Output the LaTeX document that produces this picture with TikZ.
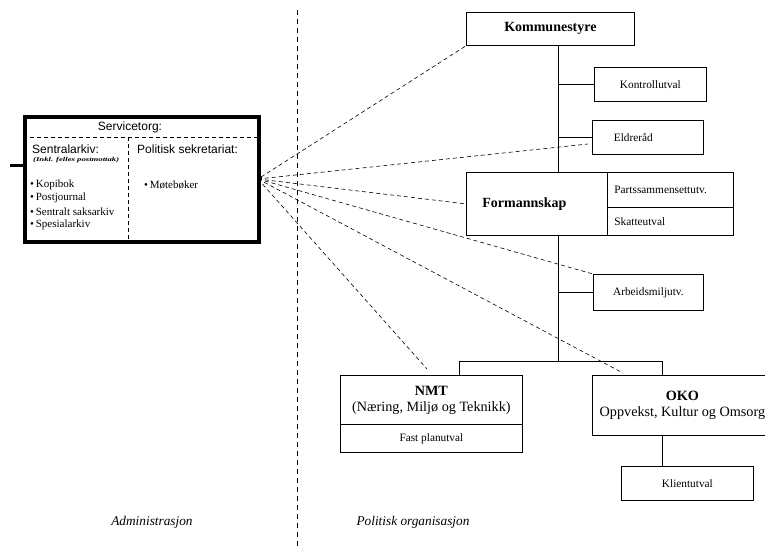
\documentclass[tikz,border=0pt]{standalone}
\usepackage{fontspec}
\setmainfont{Liberation Serif}
\newfontfamily\arialf{Liberation Sans}
\usetikzlibrary{arrows.meta}
\begin{document}
\begin{tikzpicture}[x=1pt,y=-1pt,
  box/.style={draw, line width=0.8pt, inner sep=0pt, anchor=north west, align=center},
  small/.style={font=\fontsize{11.3}{13}\selectfont},
  big/.style={font=\fontsize{14.2}{16}\selectfont},
  sans/.style={font=\arialf\fontsize{12}{14}\selectfont, inner sep=0pt},
  item/.style={font=\fontsize{11}{13}\selectfont, inner sep=0pt, anchor=west},
  link/.style={dashed, dash pattern=on 4pt off 3pt, line width=0.6pt},
  tree/.style={line width=0.8pt},
  captxt/.style={font=\itshape\fontsize{13.3}{15}\selectfont, inner sep=0pt}]
\useasboundingbox (0,0) rectangle (765,551);

% separator
\coordinate (septop) at (297,10);
\coordinate (sepbot) at (297,547);
\draw[dashed, dash pattern=on 5pt off 4pt, line width=0.7pt] (septop) -- (sepbot);

% left box
\node[box, line width=3.5pt, minimum width=234pt, minimum height=125pt] (svc) at (23,115) {};
\coordinate (hl) at (23,137);
\coordinate (vd) at (128,137);
\coordinate (stub) at (10,165);
\coordinate (hub) at (258,179);
\draw[link, line width=0.7pt] (hl) -- (hl -| svc.east);
\draw[link, line width=0.7pt] (vd) -- (vd |- svc.south);
\draw[line width=3pt] (stub) -- (stub -| svc.west);

\node[sans] (svct) at (130,127) {Servicetorg:};
\node[sans, anchor=west] (sarkt) at (32,149) {Sentralarkiv:};
\node[inner sep=0pt, anchor=west, font=\bfseries\itshape\fontsize{6}{7}\selectfont] (inkl) at (33,160) {\scalebox{1.45}[1]{(Inkl. felles postmottak)}};
\node[item] (i1) at (30,185) {\textbullet\,Kopibok};
\node[item] (i2) at (30,198) {\textbullet\,Postjournal};
\node[item] (i3) at (30,212) {\textbullet\,Sentralt saksarkiv};
\node[item] (i4) at (30,225) {\textbullet\,Spesialarkiv};
\node[sans, anchor=west] (polt) at (137,149) {Politisk sekretariat:};
\node[item] (mb) at (144,185) {\textbullet\,Møtebøker};

% organisation boxes
\node[box, font=\bfseries\fontsize{14}{16}\selectfont, minimum width=168pt, minimum height=33pt] (ks) at (466,12) {Kommunestyre};
\node[box, small, minimum width=112pt, minimum height=34pt] (kon) at (594,67) {Kontrollutval};
\node[box, small, minimum width=111pt, minimum height=34pt, text width=90pt, inner xsep=10.5pt, align=left] (eld) at (592,120) {\hspace*{11pt}Eldreråd};
\node[box, font=\bfseries\fontsize{14}{16}\selectfont, minimum width=141pt, minimum height=63pt, text width=109pt, inner xsep=16pt, align=left] (form) at (466,172) {Formannskap};
\node[box, small, minimum width=126pt, minimum height=35pt, text width=112pt, inner xsep=7pt, align=left] (parts) at (607,172) {Partssammensettutv.};
\node[box, small, minimum width=126pt, minimum height=28pt, text width=112pt, inner xsep=7pt, align=left] (skatt) at (607,207) {Skatteutval};
\node[box, small, minimum width=110pt, minimum height=36pt] (arb) at (593,274) {Arbeidsmiljutv.};
\node[box, big, minimum width=182pt, minimum height=49pt] (nmt) at (340,375) {\textbf{NMT}\\(Næring, Miljø og Teknikk)};
\node[box, small, minimum width=182pt, minimum height=28pt] (fast) at (340,424) {Fast planutval};
\node[box, big, minimum width=180pt, minimum height=60pt] (oko) at (592,375) {\textbf{OKO}\\Oppvekst, Kultur og Omsorg};
\node[box, small, minimum width=132pt, minimum height=34pt] (kli) at (621,466) {Klientutval};

% tree connectors
\coordinate (tx) at (558,0);
\coordinate (barL) at (459,361);
\coordinate (barR) at (662,361);
\draw[tree] (ks.south -| tx) -- (form.north -| tx);
\draw[tree] (kon.west -| tx) -- (kon.west);
\draw[tree] (eld.west -| tx) -- (eld.west);
\draw[tree] (arb.west -| tx) -- (arb.west);
\draw[tree] (form.south -| tx) -- (tx |- barL);
\draw[tree] (barL |- nmt.north) -- (barL) -- (barR) -- (barR |- oko.north);
\draw[tree] (oko.south -| barR) -- (kli.north -| barR);

% dashed links from servicetorg
\coordinate (eldend) at (588,144);
\coordinate (okoend) at (623,373);
\coordinate (nmtend) at (427,369);
\draw[link, {Latex[length=4pt,width=4pt]}-] (hub) -- (ks.south west);
\draw[link] (hub) -- (eldend);
\draw[link] (hub) -- (form.west);
\draw[link] (hub) -- (arb.north west);
\draw[link] (hub) -- (okoend);
\draw[link] (hub) -- (nmtend);

% captions
\node[captxt] (adm) at (152,522) {Administrasjon};
\node[captxt] (pol) at (413,522) {Politisk organisasjon};
\end{tikzpicture}
\end{document}
